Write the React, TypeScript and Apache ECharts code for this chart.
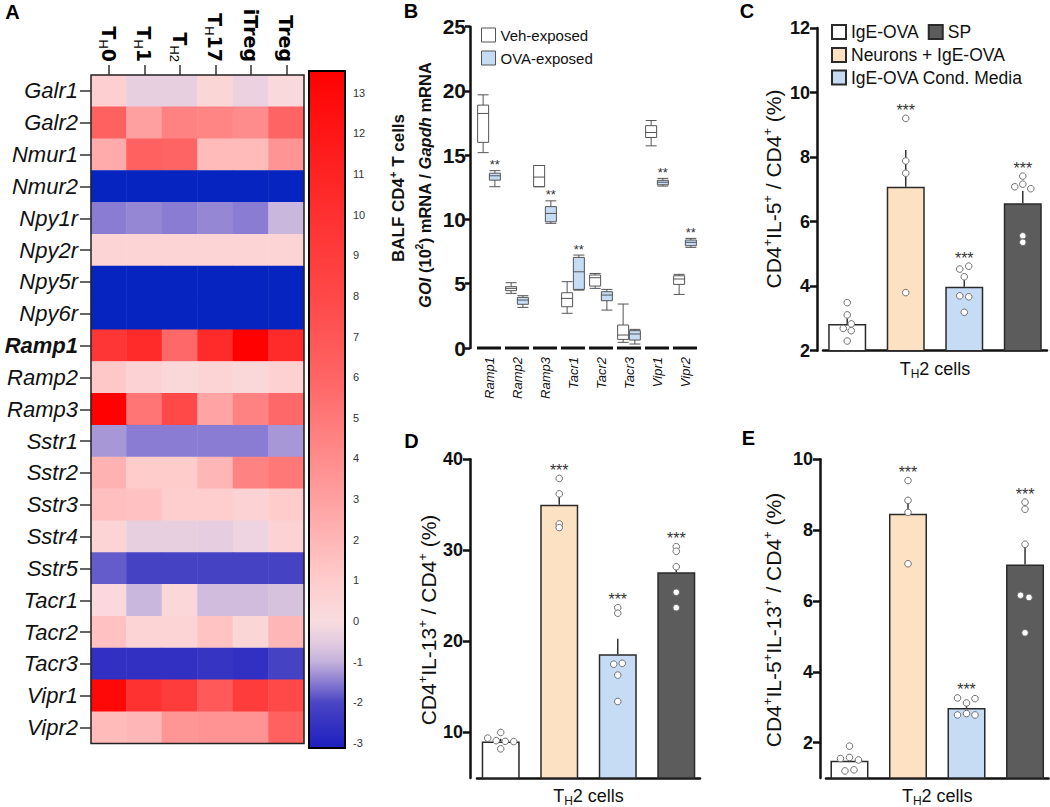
import React, { useEffect, useRef } from 'react';
import * as echarts from 'echarts';

const FONT = '"Liberation Sans", Arial, Helvetica, sans-serif';
const WIDE_FONT = '"DejaVu Sans", "Liberation Sans", Arial, sans-serif';
const INK = '#111111';

// ---------------- Panel A : heatmap ----------------
const HM_COLUMNS = ['TH0', 'TH1', 'TH2', 'TH17', 'iTreg', 'Treg'];
const HM_ROWS = ['Galr1', 'Galr2', 'Nmur1', 'Nmur2', 'Npy1r', 'Npy2r', 'Npy5r', 'Npy6r', 'Ramp1', 'Ramp2', 'Ramp3',
  'Sstr1', 'Sstr2', 'Sstr3', 'Sstr4', 'Sstr5', 'Tacr1', 'Tacr2', 'Tacr3', 'Vipr1', 'Vipr2'];
const HM_VALUES = [
  [0.8, -0.4, -0.4, 0.4, -0.3, 0.2],      // Galr1
  [6.2, 3.0, 4.5, 4.4, 4.0, 6.0],         // Galr2
  [2.5, 6.2, 6.0, 1.8, 1.8, 3.6],         // Nmur1
  [-3.5, -3.5, -3.5, -3.5, -3.5, -3.5],   // Nmur2
  [-1.5, -1.4, -1.5, -1.4, -1.5, -0.9],   // Npy1r
  [0.5, 0.5, 0.5, 0.5, 0.5, 0.5],         // Npy2r
  [-3.5, -3.5, -3.5, -3.5, -3.5, -3.5],   // Npy5r
  [-3.5, -3.5, -3.5, -3.5, -3.5, -3.5],   // Npy6r
  [9.5, 10.5, 5.8, 10.5, 13.5, 10.5],     // Ramp1
  [1.2, 0.6, 0.3, 0.5, 0.3, 0.7],         // Ramp2
  [13.5, 5.2, 8.0, 2.8, 4.5, 5.8],        // Ramp3
  [-1.25, -1.5, -1.5, -1.5, -1.5, -1.25], // Sstr1
  [2.2, 1.0, 1.0, 2.0, 4.5, 5.0],         // Sstr2
  [1.6, 1.5, 0.9, 0.9, 0.6, 1.0],         // Sstr3
  [0.5, -0.4, -0.4, -0.45, -0.25, 0.6],   // Sstr4
  [-1.8, -2.1, -2.1, -2.1, -2.1, -2.1],   // Sstr5
  [0.2, -0.9, 0.3, -0.8, -0.8, -0.7],     // Tacr1
  [1.5, 0.5, 0.5, 1.4, 0.4, 2.0],         // Tacr2
  [-2.6, -2.6, -2.6, -2.5, -2.6, -2.1],   // Tacr3
  [13.0, 9.8, 9.0, 6.8, 9.0, 8.0],        // Vipr1
  [1.8, 2.0, 3.5, 3.7, 3.7, 6.2],         // Vipr2
];
const CB_TICKS = [-3, -2, -1, 0, 1, 2, 3, 4, 5, 6, 7, 8, 9, 10, 11, 12, 13];

// ---------------- Panel B : box plots ----------------
const B_GENES = ['Ramp1', 'Ramp2', 'Ramp3', 'Tacr1', 'Tacr2', 'Tacr3', 'Vipr1', 'Vipr2'];
// [min, Q1, median, Q3, max]
const B_VEH = [
  [15.2, 16.0, 18.25, 18.9, 19.7],
  [4.25, 4.46, 4.64, 4.77, 5.08],
  [12.55, 12.55, 13.3, 14.2, 14.2],
  [2.7, 3.21, 3.86, 4.3, 5.16],
  [4.64, 4.82, 5.47, 5.68, 5.8],
  [0.44, 0.67, 1.01, 1.79, 3.42],
  [15.73, 16.38, 16.77, 17.3, 17.7],
  [4.17, 4.95, 5.37, 5.62, 5.73],
];
const B_OVA = [
  [12.55, 13.06, 13.4, 13.6, 13.8],
  [3.16, 3.4, 3.73, 3.94, 4.07],
  [9.7, 9.82, 10.47, 11.0, 11.45],
  [4.5, 4.56, 5.93, 7.05, 7.23],
  [2.95, 3.68, 4.12, 4.38, 4.56],
  [0.31, 0.62, 1.09, 1.35, 1.45],
  [12.6, 12.7, 12.9, 13.05, 13.2],
  [7.83, 7.96, 8.22, 8.4, 8.53],
];
const B_SIG = ['**', '', '**', '**', '', '', '**', '**'];
const B_TICKS = [0, 5, 10, 15, 20, 25];

// ---------------- Panels C, D, E : bars ----------------
const GROUPS = ['IgE-OVA', 'Neurons + IgE-OVA', 'IgE-OVA Cond. Media', 'SP'];
const CELL_CATEGORY = ['TH2 cells'];

const C_MEAN = [2.83, 7.08, 3.98, 6.57];
const C_ERR_TOP = [3.0, 8.22, 4.21, 6.95];
const C_DOTS = [
  [3.49, 3.11, 2.83, 2.69, 2.62, 2.30],
  [9.2, 7.88, 7.5, 3.8],
  [4.53, 4.62, 4.29, 3.7, 3.67, 3.19],
  [7.41, 7.08, 7.16, 7.02, 5.56, 5.36],
];
const C_SIG = ['', '***', '***', '***'];
const C_TICKS = [2, 4, 6, 8, 10, 12];

const D_MEAN = [9.02, 35.0, 18.6, 27.6];
const D_ERR_TOP = [9.3, 36.4, 20.3, 28.4];
const D_DOTS = [
  [9.38, 9.1, 10.0, 9.03, 9.0, 8.2],
  [37.9, 36.2, 32.9, 32.5],
  [23.7, 23.1, 17.5, 17.6, 16.3, 13.4],
  [30.4, 29.9, 28.2, 25.4, 23.7],
];
const D_SIG = ['', '***', '***', '***'];
const D_TICKS = [10, 20, 30, 40];

const E_MEAN = [1.49, 8.46, 2.98, 7.03];
const E_ERR_TOP = [1.6, 8.86, 3.12, 7.6];
const E_DOTS = [
  [1.9, 1.55, 1.58, 1.51, 1.2, 1.23],
  [9.4, 8.84, 8.5, 7.05],
  [3.26, 3.24, 3.12, 2.78, 2.82, 2.78],
  [8.79, 8.59, 7.6, 6.16, 6.1, 5.1],
];
const E_SIG = ['', '***', '***', '***'];
const E_TICKS = [2, 4, 6, 8, 10];

// ---------------- styles / layout ----------------
const GROUP_COLORS = ['#ffffff', '#fde1c3', '#c6dcf5', '#5c5c5c'];
const COLOR_STOPS: [number, string][] = [
  [-3.6, '#0026c0'], [-3, '#2222c0'], [-2, '#4a46c4'], [-1.5, '#8a7cd2'], [-1, '#c4b2dc'],
  [-0.5, '#e4cce0'], [0, '#f8dcdf'], [1, '#ffcccc'], [2, '#ffb6b6'], [3, '#ffa0a0'],
  [4, '#ff8c8c'], [5, '#ff7878'], [6, '#ff6464'], [8, '#ff4848'], [10, '#ff3030'],
  [12, '#ff1616'], [13.6, '#ff0000'],
];
// dot horizontal jitter (px) per group
const C_JIT = [[0, 0, 4, -4, 4, 0], [0, 0, 0, 0], [-4.5, 4.5, 0, -4.5, 4.5, 0], [0, -8, 0, 8, 0, 0]];
const D_JIT = [[-13, -4.5, 0, 4.5, 13, 0], [0, 0, 0, 0], [0, 0, -4, 4.5, 0, 0], [0, 0, 0, 0, 0]];
const E_JIT = [[0, -9, 0, 9, -4.5, 4.5], [0, 0, 0, 0], [-9, 8.5, 0, -9, 0, 8.5], [0, 0, 0, -4.5, 4, 0]];
const BAR_W = 38;
const BAR_GAP = 0.54;
const HM_GRID = { left: 91, top: 75, width: 213, height: 668.5 };

function hexToRgb(h: string) {
  const n = parseInt(h.slice(1), 16);
  return [(n >> 16) & 255, (n >> 8) & 255, n & 255];
}
function colorAt(v: number) {
  if (v <= COLOR_STOPS[0][0]) return COLOR_STOPS[0][1];
  for (let i = 1; i < COLOR_STOPS.length; i++) {
    const [v1, c1] = COLOR_STOPS[i];
    const [v0, c0] = COLOR_STOPS[i - 1];
    if (v <= v1) {
      const t = (v - v0) / (v1 - v0);
      const a = hexToRgb(c0), b = hexToRgb(c1);
      const m = a.map((x, k) => Math.round(x + (b[k] - x) * t));
      return `rgb(${m[0]},${m[1]},${m[2]})`;
    }
  }
  return COLOR_STOPS[COLOR_STOPS.length - 1][1];
}

const VM_MIN = -3.6, VM_MAX = 13.6;
const CB_MIN = -3.12, CB_MAX = 13.53;

function richText(size: number, weight = 'normal') {
  const ps = Math.round(size * 0.62);
  return {
    n: { fontSize: size, fontWeight: weight, fontFamily: FONT, color: INK, lineHeight: size + 4 },
    p: { fontSize: ps, fontWeight: weight, fontFamily: FONT, color: INK, verticalAlign: 'top', lineHeight: ps },
    i: { fontSize: size, fontWeight: weight, fontStyle: 'italic', fontFamily: FONT, color: INK, lineHeight: size + 4 },
  };
}

function gtext(x: number, y: number, text: string, rich: any, rotation = 0) {
  return {
    type: 'text', x, y, rotation, z: 50,
    style: {
      text, rich, align: 'center', verticalAlign: 'middle', textAlign: 'center', textVerticalAlign: 'middle',
      fill: INK, fontFamily: FONT,
    },
  };
}
function letter(x: number, y: number, t: string) {
  return {
    type: 'text', x, y, z: 50,
    style: {
      text: t, align: 'center', verticalAlign: 'middle', textAlign: 'center', textVerticalAlign: 'middle',
      fill: '#000', fontFamily: FONT, fontWeight: 'bold', fontSize: 20, font: `bold 20px ${FONT}`,
    },
  };
}

function colLabel(v: string) {
  if (v === 'TH2') return '{t|T}{s|H2}';
  if (v.startsWith('TH')) return `{t|T}{s|H}{t|${v.slice(2)}}`;
  return `{t|${v}}`;
}

function barDecoration(xi: number, yi: number, mean: number[], errTop: number[], dots: number[][], jit: number[][], sig: string[]) {
  const spacing = BAR_W * (1 + BAR_GAP);
  return {
    type: 'custom', xAxisIndex: xi, yAxisIndex: yi, z: 6, silent: true,
    data: mean.map((m, i) => [0, m, i]),
    renderItem: (params: any, api: any) => {
      const i = params.dataIndex;
      const base = api.coord([0, mean[i]]);
      const cx = base[0] + (i - (mean.length - 1) / 2) * spacing;
      const top = api.coord([0, errTop[i]]);
      const children: any[] = [];
      children.push({
        type: 'line', shape: { x1: cx, y1: base[1], x2: cx, y2: top[1] },
        style: { stroke: '#333', lineWidth: 1.5 },
      });
      let minY = top[1];
      dots[i].forEach((v, k) => {
        const p = api.coord([0, v]);
        minY = Math.min(minY, p[1]);
        children.push({
          type: 'circle', shape: { cx: cx + jit[i][k], cy: p[1], r: 3.3 },
          style: { fill: '#ffffff', stroke: '#707070', lineWidth: 1 },
        });
      });
      if (sig[i]) {
        children.push({
          type: 'text', x: cx, y: minY - 8,
          style: { text: sig[i], align: 'center', verticalAlign: 'middle', textAlign: 'center', textVerticalAlign: 'middle', fill: '#333', fontSize: 16, fontFamily: FONT },
        });
      }
      return { type: 'group', children };
    },
  };
}

function barSeries(xi: number, yi: number, mean: number[]) {
  return mean.map((m, i) => ({
    type: 'bar', name: GROUPS[i], xAxisIndex: xi, yAxisIndex: yi, data: [m],
    barWidth: BAR_W, barGap: `${BAR_GAP * 100}%`, z: 2, silent: true,
    itemStyle: { color: GROUP_COLORS[i], borderColor: '#2a2a2a', borderWidth: 1.5 },
  }));
}

const cellsLabel = {
  formatter: () => '{n|T}{s|H}{n|2 cells}',
  rich: {
    n: { fontSize: 18, fontFamily: FONT, color: INK, lineHeight: 22 },
    s: { fontSize: 12, fontFamily: FONT, color: INK, verticalAlign: 'bottom', lineHeight: 12 },
  },
  margin: 7,
};

function barXAxis(grid: number) {
  return {
    type: 'category', gridIndex: grid, data: CELL_CATEGORY,
    axisLine: { show: true, lineStyle: { color: INK, width: 2.5 } },
    axisTick: { show: false }, axisLabel: cellsLabel, splitLine: { show: false },
  };
}
function valueYAxis(grid: number, min: number, max: number, ticks: number[], offset: number, fontSize: number, tickLen: number, margin: number) {
  return {
    type: 'value', gridIndex: grid, min, max, offset,
    axisLine: { show: true, lineStyle: { color: INK, width: 2.5 } },
    axisTick: { show: true, length: tickLen, lineStyle: { color: INK, width: 2.5 }, customValues: ticks },
    axisLabel: { color: INK, fontFamily: FONT, fontWeight: 'bold', fontSize, margin, customValues: ticks },
    splitLine: { show: false },
  };
}

function buildOption(): any {
  const heatData: any[] = [];
  HM_VALUES.forEach((row, r) => row.forEach((v, c) => heatData.push([c, r, v])));

  const vmColors: string[] = [];
  for (let v = VM_MIN; v <= VM_MAX + 1e-9; v += 0.1) vmColors.push(colorAt(v));

  const cbStops = COLOR_STOPS
    .map(([v]) => v)
    .concat([CB_MIN, CB_MAX])
    .filter((v) => v >= CB_MIN && v <= CB_MAX)
    .map((v) => ({ offset: (CB_MAX - v) / (CB_MAX - CB_MIN), color: colorAt(v) }))
    .sort((a, b) => a.offset - b.offset);

  const rowRich = {
    it: { fontSize: 22, fontStyle: 'italic', fontFamily: FONT, color: INK },
    bd: { fontSize: 22, fontStyle: 'italic', fontWeight: 'bold', fontFamily: FONT, color: INK },
  };

  const BOX_OFFSET = (band: number) => {
    const avail = band * 0.8 - 2;
    const gap = (avail / 2) * 0.3;
    const w = (avail - gap) / 2;
    return (w + gap) / 2;
  };

  const legendText = (size: number) => ({ fontSize: size, color: INK, fontFamily: FONT });

  return {
    animation: false,
    backgroundColor: '#ffffff',
    textStyle: { fontFamily: FONT },
    grid: [
      HM_GRID,
      { left: 309, top: 71, width: 36, height: 677 },
      { left: 475, top: 26.7, width: 224, height: 321.3 },
      { left: 823, top: 28, width: 224, height: 322.7 },
      { left: 477, top: 459.3, width: 223, height: 321 },
      { left: 826, top: 459.3, width: 222.5, height: 321.4 },
    ],
    visualMap: {
      type: 'continuous', show: false, seriesIndex: 0, dimension: 2,
      min: VM_MIN, max: VM_MAX, inRange: { color: vmColors },
    },
    legend: [
      {
        orient: 'vertical', left: 481, top: 27.5, padding: 0, itemWidth: 14, itemHeight: 14, itemGap: 8, icon: 'rect',
        textStyle: legendText(15), selectedMode: false,
        data: [
          { name: 'Veh-exposed', itemStyle: { color: '#ffffff', borderColor: '#555', borderWidth: 1 } },
          { name: 'OVA-exposed', itemStyle: { color: '#c6dcf5', borderColor: '#555', borderWidth: 1 } },
        ],
      },
      {
        left: 831, top: 23, padding: 0, itemWidth: 14, itemHeight: 14, itemGap: 9, icon: 'rect', selectedMode: false,
        textStyle: legendText(17.5), data: [GROUPS[0], GROUPS[3]],
      },
      {
        left: 831, top: 46, padding: 0, itemWidth: 14, itemHeight: 14, icon: 'rect', selectedMode: false,
        textStyle: legendText(17.5), data: [GROUPS[1]],
      },
      {
        left: 831, top: 68.5, padding: 0, itemWidth: 14, itemHeight: 14, icon: 'rect', selectedMode: false,
        textStyle: legendText(17.5), data: [GROUPS[2]],
      },
    ],
    xAxis: [
      { // 0 heatmap columns
        type: 'category', gridIndex: 0, position: 'top', data: HM_COLUMNS,
        axisLine: { show: false },
        axisTick: { show: true, alignWithLabel: true, length: 10, lineStyle: { color: '#333', width: 1.5 } },
        axisLabel: {
          rotate: 90, margin: 13, formatter: colLabel,
          rich: {
            t: { fontSize: 19, fontWeight: 'bold', fontFamily: WIDE_FONT, color: '#000', lineHeight: 24 },
            s: { fontSize: 13, fontFamily: FONT, color: '#000', verticalAlign: 'bottom', lineHeight: 13 },
          },
        },
        splitLine: { show: false },
      },
      { // 1 heatmap inner ticks
        type: 'category', gridIndex: 0, position: 'top', data: HM_COLUMNS,
        axisLine: { show: false }, axisLabel: { show: false },
        axisTick: { show: true, inside: true, alignWithLabel: true, length: 10, lineStyle: { color: '#333', width: 1.5 } },
      },
      { type: 'category', gridIndex: 1, data: ['cb'], show: false },
      { // 3 panel B
        type: 'category', gridIndex: 2, data: B_GENES,
        axisLine: { show: false }, axisTick: { show: false },
        axisLabel: { rotate: 90, margin: 9, fontSize: 13, fontStyle: 'italic', color: INK, fontFamily: FONT },
      },
      barXAxis(3),
      barXAxis(4),
      barXAxis(5),
    ],
    yAxis: [
      { // 0 heatmap rows
        type: 'category', gridIndex: 0, inverse: true, data: HM_ROWS,
        axisLine: { show: false },
        axisTick: { show: true, alignWithLabel: true, length: 11, lineStyle: { color: '#333', width: 1.5 } },
        axisLabel: {
          margin: 13,
          formatter: (v: string) => (v === 'Ramp1' ? `{bd|${v}}` : `{it|${v}}`),
          rich: rowRich,
        },
      },
      { // 1 heatmap inner ticks
        type: 'category', gridIndex: 0, inverse: true, data: HM_ROWS,
        axisLine: { show: false }, axisLabel: { show: false },
        axisTick: { show: true, inside: true, alignWithLabel: true, length: 10, lineStyle: { color: '#333', width: 1.5 } },
      },
      { // 2 colorbar left ticks
        type: 'value', gridIndex: 1, min: CB_MIN, max: CB_MAX, position: 'left',
        axisLine: { show: false }, axisLabel: { show: false }, splitLine: { show: false },
        axisTick: { show: true, inside: true, length: 9, lineStyle: { color: '#000', width: 2 }, customValues: CB_TICKS },
      },
      { // 3 colorbar right ticks + labels
        type: 'value', gridIndex: 1, min: CB_MIN, max: CB_MAX, position: 'right',
        axisLine: { show: false }, splitLine: { show: false },
        axisTick: { show: true, inside: true, length: 9, lineStyle: { color: '#000', width: 2 }, customValues: CB_TICKS },
        axisLabel: { fontSize: 11, color: '#333', margin: 8, fontFamily: FONT, customValues: CB_TICKS },
      },
      valueYAxis(2, 0, 25, B_TICKS, 5, 21, 5, 4),
      valueYAxis(3, 2, 12, C_TICKS, 6, 18, 7, 7),
      valueYAxis(4, 5, 40, D_TICKS, 7, 18, 7, 7),
      valueYAxis(5, 1, 10, E_TICKS, 6, 18, 7, 7),
    ],
    series: [
      {
        type: 'heatmap', xAxisIndex: 0, yAxisIndex: 0, data: heatData, silent: true,
        itemStyle: { borderWidth: 0 }, emphasis: { disabled: true },
      },
      { // heatmap frame
        type: 'custom', xAxisIndex: 0, yAxisIndex: 0, data: [[0, 0]], z: 5, silent: true,
        renderItem: (params: any) => {
          const cs = params.coordSys;
          return { type: 'rect', shape: { x: cs.x, y: cs.y, width: cs.width, height: cs.height }, style: { fill: 'none', stroke: '#222', lineWidth: 1.5 } };
        },
      },
      { // colorbar
        type: 'custom', xAxisIndex: 2, yAxisIndex: 2, data: [[0, 0]], z: 1, silent: true,
        renderItem: (params: any) => {
          const cs = params.coordSys;
          return {
            type: 'rect', shape: { x: cs.x, y: cs.y, width: cs.width, height: cs.height },
            style: { fill: new echarts.graphic.LinearGradient(0, 0, 0, 1, cbStops), stroke: '#000', lineWidth: 2 },
          };
        },
      },
      // Panel B
      {
        type: 'boxplot', name: 'Veh-exposed', xAxisIndex: 3, yAxisIndex: 4, data: B_VEH, boxWidth: [11, 11], silent: true,
        itemStyle: { color: '#ffffff', borderColor: '#555555', borderWidth: 1 },
      },
      {
        type: 'boxplot', name: 'OVA-exposed', xAxisIndex: 3, yAxisIndex: 4, data: B_OVA, boxWidth: [11, 11], silent: true,
        itemStyle: { color: '#c6dcf5', borderColor: '#555555', borderWidth: 1 },
      },
      { // segmented x axis + significance marks
        type: 'custom', xAxisIndex: 3, yAxisIndex: 4, z: 6, silent: true,
        data: B_GENES.map((g, i) => [i, 0]),
        renderItem: (params: any, api: any) => {
          const i = params.dataIndex;
          const c = api.coord([i, 0]);
          const band = api.size([1, 0])[0];
          const children: any[] = [{
            type: 'line', shape: { x1: c[0] - band / 2 + 2, y1: c[1], x2: c[0] + band / 2 - 2, y2: c[1] },
            style: { stroke: INK, lineWidth: 3 },
          }];
          if (B_SIG[i]) {
            const t = api.coord([i, B_OVA[i][4]]);
            children.push({
              type: 'text', x: c[0] + BOX_OFFSET(band), y: t[1] - 6,
              style: { text: B_SIG[i], align: 'center', verticalAlign: 'middle', textAlign: 'center', textVerticalAlign: 'middle', fill: '#333', fontSize: 13, fontFamily: FONT },
            });
          }
          return { type: 'group', children };
        },
      },
      // Panel C
      ...barSeries(4, 5, C_MEAN),
      barDecoration(4, 5, C_MEAN, C_ERR_TOP, C_DOTS, C_JIT, C_SIG),
      // Panel D
      ...barSeries(5, 6, D_MEAN),
      barDecoration(5, 6, D_MEAN, D_ERR_TOP, D_DOTS, D_JIT, D_SIG),
      // Panel E
      ...barSeries(6, 7, E_MEAN),
      barDecoration(6, 7, E_MEAN, E_ERR_TOP, E_DOTS, E_JIT, E_SIG),
    ],
    graphic: [
      letter(12.5, 11.5, 'A'),
      letter(411, 11, 'B'),
      letter(747, 11, 'C'),
      letter(411.5, 441, 'D'),
      letter(748.5, 437.5, 'E'),
      gtext(398, 188, '{n|BALF CD4}{p|+}{n| T cells}', richText(17, 'bold'), Math.PI / 2),
      gtext(425, 185, '{i|GOI}{n| (10}{p|2}{n|) mRNA / }{i|Gapdh}{n| mRNA}', richText(16.5, 'bold'), Math.PI / 2),
      gtext(773, 189, '{n|CD4}{p|+}{n|IL-5}{p|+}{n| / CD4}{p|+}{n| (%)}', richText(21), Math.PI / 2),
      gtext(428, 620, '{n|CD4}{p|+}{n|IL-13}{p|+}{n| / CD4}{p|+}{n| (%)}', richText(21), Math.PI / 2),
      gtext(773, 620, '{n|CD4}{p|+}{n|IL-5}{p|+}{n|IL-13}{p|+}{n| / CD4}{p|+}{n| (%)}', richText(21), Math.PI / 2),
    ],
  };
}

export default function App() {
  const ref = useRef<HTMLDivElement>(null);
  useEffect(() => {
    document.body.style.margin = '0';
    const chart = echarts.init(ref.current as HTMLDivElement, null, { renderer: 'svg' });
    chart.setOption(buildOption());
    return () => chart.dispose();
  }, []);
  return <div ref={ref} style={{ width: 1050, height: 807, background: '#ffffff' }} />;
}
